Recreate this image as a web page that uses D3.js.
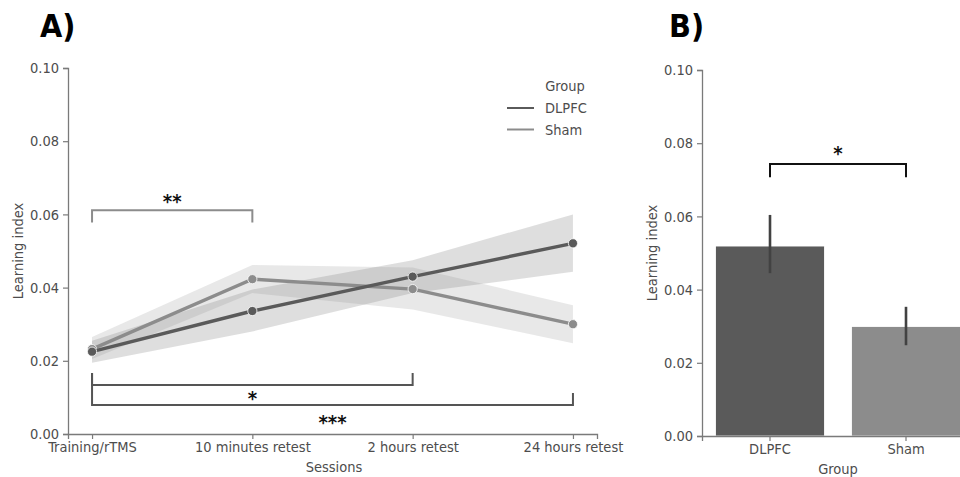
<!DOCTYPE html>
<html>
<head>
<meta charset="utf-8">
<script src="https://cdn.jsdelivr.net/npm/d3@7"></script>
<style>
  body { margin: 0; background: #fff; }
  text { font-family: "DejaVu Sans", sans-serif; font-stretch: semi-condensed; }
</style>
</head>
<body>
<div id="chart"></div>
<script>
// data
const sessions = ["Training/rTMS", "10 minutes retest", "2 hours retest", "24 hours retest"];
const dlpfcMean = [0.0225, 0.0336, 0.0430, 0.0521];
const dlpfcLow  = [0.0195, 0.0280, 0.0385, 0.0443];
const dlpfcHigh = [0.0255, 0.0395, 0.0475, 0.0600];
const shamMean  = [0.0232, 0.0423, 0.0396, 0.0300];
const shamLow   = [0.0205, 0.0385, 0.0340, 0.0248];
const shamHigh  = [0.0265, 0.0462, 0.0455, 0.0352];

const groups = ["DLPFC", "Sham"];
const groupMean = [0.0519, 0.0299];
const groupLow  = [0.0445, 0.0248];
const groupHigh = [0.0604, 0.0353];

const yTicks = [0, 0.02, 0.04, 0.06, 0.08, 0.10];

// significance brackets (session index pairs, levels in data units)
const bracketsA = [
  {a: 0, b: 1, y: 0.0611, legL: 0.0578, legR: 0.0578, label: "**",  labelY: 0.0645, color: "#8c8c8c"},
  {a: 0, b: 2, y: 0.0134, legL: 0.0167, legR: 0.0167, label: "*",   labelY: 0.0107, color: "#555555"},
  {a: 0, b: 3, y: 0.0079, legL: 0.0167, legR: 0.0112, label: "***", labelY: 0.0041, color: "#555555"}
];
const bracketB = {y: 0.0743, leg: 0.0707, label: "*", labelY: 0.0781};

const darkCol = "#5a5a5a", lightCol = "#8c8c8c";
const axisCol = "#7a7a7a", tickTextCol = "#4d4d4d";

const svg = d3.select("#chart")
  .append("svg")
    .attr("width", 960)
    .attr("height", 477);

// ---------------- Panel A ----------------
const x = d3.scalePoint()
  .domain(sessions)
  .range([68, 597])
  .padding(0.15);

const y = d3.scaleLinear()
  .domain([0, 0.1])
  .range([434, 68]);

const gA = svg.append("g");

function styleAxis(g) {
  g.select(".domain").attr("stroke", axisCol).attr("stroke-width", 1.3);
  g.selectAll(".tick line").attr("stroke", axisCol).attr("stroke-width", 1.2);
  g.selectAll(".tick text").attr("fill", tickTextCol).style("font-size", "14.5px");
}

gA.append("g")
  .attr("transform", "translate(68,0)")
  .call(d3.axisLeft(y).tickValues(yTicks).tickFormat(d3.format(".2f")).tickSizeOuter(0).tickSize(5).tickPadding(4))
  .call(styleAxis);

gA.append("g")
  .attr("transform", "translate(0,434)")
  .call(d3.axisBottom(x).tickSizeOuter(0).tickSize(5).tickPadding(3))
  .call(styleAxis);

// CI bands
const seriesA = [
  {name: "DLPFC", mean: dlpfcMean, low: dlpfcLow, high: dlpfcHigh, color: darkCol},
  {name: "Sham",  mean: shamMean,  low: shamLow,  high: shamHigh,  color: lightCol}
];

const area = d3.area()
  .x((d, i) => x(sessions[i]))
  .y0(d => y(d[0]))
  .y1(d => y(d[1]));

seriesA.forEach(s => {
  gA.append("path")
    .datum(s.low.map((v, i) => [v, s.high[i]]))
    .attr("d", area)
    .attr("fill", s.color)
    .attr("fill-opacity", 0.2);
});

const line = d3.line()
  .x((d, i) => x(sessions[i]))
  .y(d => y(d));

// draw sham first, DLPFC on top
[seriesA[1], seriesA[0]].forEach(s => {
  gA.append("path")
    .datum(s.mean)
    .attr("d", line)
    .attr("fill", "none")
    .attr("stroke", s.color)
    .attr("stroke-width", 3.4);
  gA.selectAll(null)
    .data(s.mean)
    .join("circle")
      .attr("cx", (d, i) => x(sessions[i]))
      .attr("cy", d => y(d))
      .attr("r", 4.6)
      .attr("fill", s.color)
      .attr("stroke", "#fff")
      .attr("stroke-width", 0.8);
});

// brackets
bracketsA.forEach(b => {
  const x1 = x(sessions[b.a]), x2 = x(sessions[b.b]);
  gA.append("path")
    .attr("d", `M${x1},${y(b.legL)}V${y(b.y)}H${x2}V${y(b.legR)}`)
    .attr("fill", "none")
    .attr("stroke", b.color)
    .attr("stroke-width", 2);
  gA.append("text")
    .attr("x", (x1 + x2) / 2)
    .attr("y", y(b.labelY))
    .attr("dy", "0.5em")
    .attr("text-anchor", "middle")
    .style("font-size", "20px")
    .style("font-weight", "bold")
    .attr("fill", "#111")
    .text(b.label);
});

// legend
const legend = gA.append("g");
legend.append("text")
  .attr("x", 565).attr("y", 91)
  .attr("text-anchor", "middle")
  .attr("fill", tickTextCol)
  .style("font-size", "14.5px")
  .text("Group");
seriesA.forEach((s, i) => {
  legend.append("line")
    .attr("x1", 507).attr("x2", 534)
    .attr("y1", 108 + i * 21.5).attr("y2", 108 + i * 21.5)
    .attr("stroke", s.color)
    .attr("stroke-width", 2);
  legend.append("text")
    .attr("x", 545).attr("y", 113 + i * 21.5)
    .attr("fill", tickTextCol)
    .style("font-size", "14.5px")
    .text(s.name);
});

// axis labels
gA.append("text")
  .attr("transform", "translate(23,251) rotate(-90)")
  .attr("text-anchor", "middle")
  .attr("fill", tickTextCol)
  .style("font-size", "14.5px")
  .text("Learning index");
gA.append("text")
  .attr("x", 334).attr("y", 472)
  .attr("text-anchor", "middle")
  .attr("fill", tickTextCol)
  .style("font-size", "14.5px")
  .text("Sessions");

svg.append("text")
  .attr("x", 40).attr("y", 37)
  .style("font-size", "32px")
  .style("font-weight", "bold")
  .attr("fill", "#000")
  .text("A)");

// ---------------- Panel B ----------------
const xb = d3.scaleBand()
  .domain(groups)
  .range([702, 974])
  .paddingInner(0.2)
  .paddingOuter(0.1);

const yb = d3.scaleLinear()
  .domain([0, 0.1])
  .range([436, 70]);

const gB = svg.append("g");

gB.append("g")
  .attr("transform", "translate(702,0)")
  .call(d3.axisLeft(yb).tickValues(yTicks).tickFormat(d3.format(".2f")).tickSizeOuter(0).tickSize(5).tickPadding(4))
  .call(styleAxis);

gB.selectAll("rect")
  .data(groups)
  .join("rect")
    .attr("x", d => xb(d))
    .attr("y", (d, i) => yb(groupMean[i]))
    .attr("width", xb.bandwidth())
    .attr("height", (d, i) => 436 - yb(groupMean[i]))
    .attr("fill", (d, i) => i === 0 ? darkCol : lightCol)
    .attr("stroke", "#fff")
    .attr("stroke-width", 0.8);

gB.append("g")
  .attr("transform", "translate(0,436)")
  .call(d3.axisBottom(xb).tickSizeOuter(0).tickSize(5).tickPadding(3))
  .call(styleAxis);

gB.selectAll(".errbar")
  .data(groups)
  .join("line")
    .attr("class", "errbar")
    .attr("x1", d => xb(d) + xb.bandwidth() / 2)
    .attr("x2", d => xb(d) + xb.bandwidth() / 2)
    .attr("y1", (d, i) => yb(groupLow[i]))
    .attr("y2", (d, i) => yb(groupHigh[i]))
    .attr("stroke", "#424242")
    .attr("stroke-width", 2.6);

const bx1 = xb(groups[0]) + xb.bandwidth() / 2, bx2 = xb(groups[1]) + xb.bandwidth() / 2;
gB.append("path")
  .attr("d", `M${bx1},${yb(bracketB.leg)}V${yb(bracketB.y)}H${bx2}V${yb(bracketB.leg)}`)
  .attr("fill", "none")
  .attr("stroke", "#111")
  .attr("stroke-width", 2);
gB.append("text")
  .attr("x", (bx1 + bx2) / 2)
  .attr("y", yb(bracketB.labelY))
  .attr("dy", "0.5em")
  .attr("text-anchor", "middle")
  .style("font-size", "20px")
  .style("font-weight", "bold")
  .attr("fill", "#111")
  .text(bracketB.label);

gB.append("text")
  .attr("transform", "translate(657,253) rotate(-90)")
  .attr("text-anchor", "middle")
  .attr("fill", tickTextCol)
  .style("font-size", "14.5px")
  .text("Learning index");
gB.append("text")
  .attr("x", 838).attr("y", 474)
  .attr("text-anchor", "middle")
  .attr("fill", tickTextCol)
  .style("font-size", "14.5px")
  .text("Group");

svg.append("text")
  .attr("x", 669).attr("y", 37)
  .style("font-size", "32px")
  .style("font-weight", "bold")
  .attr("fill", "#000")
  .text("B)");
</script>
</body>
</html>
